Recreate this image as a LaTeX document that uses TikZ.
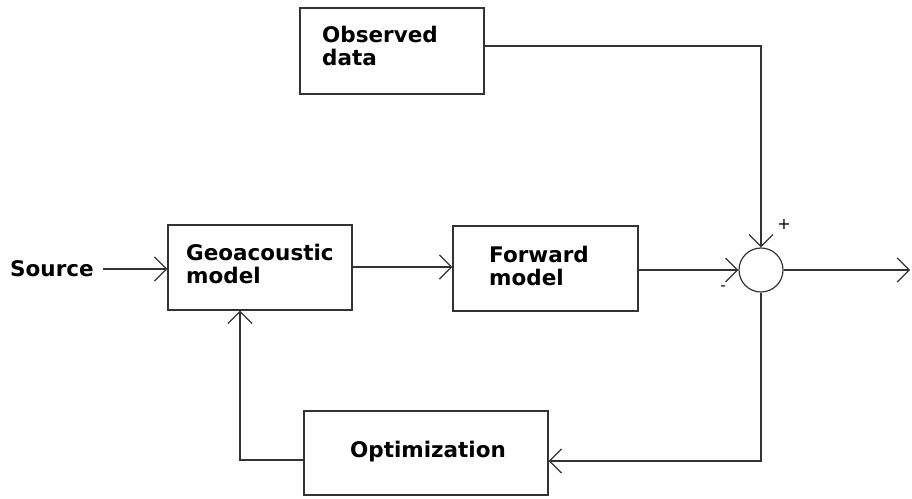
\documentclass[tikz,border=0pt]{standalone}
\usepackage{fontspec}
\setmainfont{DejaVu Sans}
\usetikzlibrary{arrows.meta}
\tikzset{
  blk/.style={draw=black!80, line width=1.4pt, inner sep=0pt},
  lbl/.style={anchor=west, align=left, inner sep=0pt, font=\bfseries\fontsize{21.5}{23}\selectfont},
  wire/.style={draw=black!80, line width=1.2pt},
  arr/.style={wire, -{Straight Barb[length=12pt,width=24pt]}},
}
\begin{document}
  \begin{tikzpicture}[x=1pt,y=-1pt]
    \useasboundingbox (0,0) rectangle (912,498);
    % boxes
    \node [blk, minimum width=184pt, minimum height=86pt] (obs) at (392,51) {};
    \node [lbl] (obstxt) at (322,46) {Observed\\data};
    \node [blk, minimum width=184pt, minimum height=85pt] (geo) at (260,267.5) {};
    \node [lbl] (geotxt) at (186,264) {Geoacoustic\\model};
    \node [blk, minimum width=185pt, minimum height=85pt] (fwd) at (545.5,268.5) {};
    \node [lbl] (fwdtxt) at (489,266) {Forward\\model};
    \node [blk, minimum width=244pt, minimum height=84pt] (opt) at (426,453) {};
    \node [lbl, anchor=center] (opttxt) at (428,452) {Optimization};
    \node [wire, circle, minimum size=44pt, inner sep=0pt] (sum) at (761,270) {};
    \node [lbl] (src) at (10,269) {Source};
    \node [font=\fontsize{16}{16}\selectfont] (plus) at (784,224) {+};
    \node [font=\fontsize{15}{15}\selectfont] (minus) at (723,288) {-};
    \coordinate (out) at (910,270);
    % connectors
    \draw [arr, shorten <=9pt] (src.east) -- (src.east -| geo.west);
    \draw [arr] (geo.east |- 0,267) -- (fwd.west |- 0,267);
    \draw [arr] (fwd.east |- sum) -- (sum.west);
    \draw [arr] ([yshift=5pt]obs.east) -| (sum.north);
    \draw [arr] (sum.east) -- (out);
    \draw [arr] (sum.south) |- ([yshift=-8pt]opt.east);
    \draw [arr] ([yshift=-7pt]opt.west) -| ([xshift=-20pt]geo.south);
  \end{tikzpicture}
\end{document}
